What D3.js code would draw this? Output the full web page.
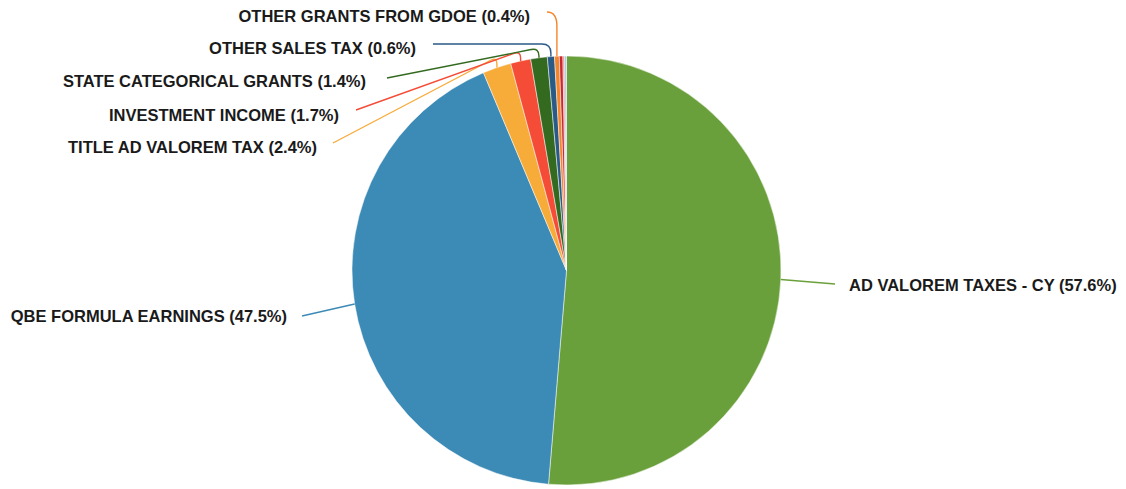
<!DOCTYPE html>
<html>
<head>
<meta charset="utf-8">
<script src="https://cdn.jsdelivr.net/npm/d3@7"></script>
<style>
  html, body { margin: 0; padding: 0; background: #ffffff; }
  svg { display: block; }
  text { font-family: "Liberation Sans", Arial, Helvetica, sans-serif; font-weight: bold; }
</style>
</head>
<body>
<div id="chart"></div>
<script>
// Revenue sources (share of total, %)
const categories = [
  "AD VALOREM TAXES - CY",
  "QBE FORMULA EARNINGS",
  "TITLE AD VALOREM TAX",
  "INVESTMENT INCOME",
  "STATE CATEGORICAL GRANTS",
  "OTHER SALES TAX",
  "OTHER GRANTS FROM GDOE",
  "OTHER LOCAL REVENUE",
  "MISCELLANEOUS",
  "PRIOR YEAR TAXES"
];
const values = [57.6, 47.5, 2.4, 1.7, 1.4, 0.6, 0.4, 0.3, 0.15, 0.15];
const showLabel = [true, true, true, true, true, true, true, false, false, false];
const colors = [
  "#6aa03b", "#3c8ab6", "#f7ab39", "#f44c36", "#336a20",
  "#2a5a86", "#f5852a", "#c8282e", "#f08c86", "#9cc6e4"
];

// Label placement: text anchor point, leader-line end point, and corner height for the bent leaders
const labelLayout = {
  "AD VALOREM TAXES - CY":    { tx: 849, ty: 291,   anchor: "start", ex: 835, ey: 284, bend: false },
  "QBE FORMULA EARNINGS":     { tx: 287, ty: 321.7, anchor: "end",   ex: 302, ey: 316, bend: false },
  "TITLE AD VALOREM TAX":     { tx: 317, ty: 153.3, anchor: "end",   ex: 333, ey: 143, bend: true, cy: 57, r: 7 },
  "INVESTMENT INCOME":        { tx: 339, ty: 120.5, anchor: "end",   ex: 356, ey: 110, bend: true, cy: 51, r: 7 },
  "STATE CATEGORICAL GRANTS": { tx: 366, ty: 86.7,  anchor: "end",   ex: 387, ey: 78,  bend: true, cy: 48, r: 8 },
  "OTHER SALES TAX":          { tx: 416, ty: 53.5,  anchor: "end",   ex: 433, ey: 44,  bend: true, cy: 44, r: 9 },
  "OTHER GRANTS FROM GDOE":   { tx: 530, ty: 21.5,  anchor: "end",   ex: 547, ey: 12,  bend: true, cy: 12, r: 14 }
};

const width = 1126, height = 489;
const cx = 566.5, cy = 270.5, radius = 214.5;

const svg = d3.select("#chart").append("svg")
  .attr("width", width).attr("height", height);

const data = categories.map((c, i) => ({ name: c, value: values[i], color: colors[i], label: showLabel[i] }));

const pie = d3.pie().value(d => d.value).sort(null);
const arcs = pie(data);
const arc = d3.arc().innerRadius(0).outerRadius(radius);

const g = svg.append("g").attr("transform", `translate(${cx},${cy})`);

g.selectAll("path.slice")
  .data(arcs)
  .join("path")
  .attr("class", "slice")
  .attr("d", arc)
  .attr("fill", d => d.data.color)
  .attr("stroke", "#ffffff")
  .attr("stroke-width", 0.5);

// Leader lines and labels
const labelled = arcs.filter(d => d.data.label);

function rimPoint(d) {
  const a = (d.startAngle + d.endAngle) / 2;
  return [cx + radius * Math.sin(a), cy - radius * Math.cos(a)];
}

function leaderPath(d) {
  const L = labelLayout[d.data.name];
  const [sx, sy] = rimPoint(d);
  const p = d3.path();
  p.moveTo(sx, sy);
  if (!L.bend) {
    p.lineTo(L.ex, L.ey);
    return p.toString();
  }
  const cornerX = sx, cornerY = L.cy;
  const dx = L.ex - cornerX, dy = L.ey - cornerY;
  const dist = Math.hypot(dx, dy);
  p.lineTo(sx, cornerY + L.r);
  if (dist <= L.r * 1.2) {
    p.quadraticCurveTo(cornerX, cornerY, L.ex, L.ey);
  } else {
    const bx = cornerX + dx / dist * L.r, by = cornerY + dy / dist * L.r;
    p.quadraticCurveTo(cornerX, cornerY, bx, by);
    p.lineTo(L.ex, L.ey);
  }
  return p.toString();
}

svg.selectAll("path.leader")
  .data(labelled)
  .join("path")
  .attr("class", "leader")
  .attr("d", leaderPath)
  .attr("fill", "none")
  .attr("stroke", d => d.data.color)
  .attr("stroke-width", 1.4);

svg.selectAll("text.label")
  .data(labelled)
  .join("text")
  .attr("class", "label")
  .attr("x", d => labelLayout[d.data.name].tx)
  .attr("y", d => labelLayout[d.data.name].ty)
  .attr("text-anchor", d => labelLayout[d.data.name].anchor)
  .attr("font-size", "16.5px")
  .attr("fill", "#1a1a1a")
  .text(d => `${d.data.name} (${d.data.value.toFixed(1)}%)`);
</script>
</body>
</html>
